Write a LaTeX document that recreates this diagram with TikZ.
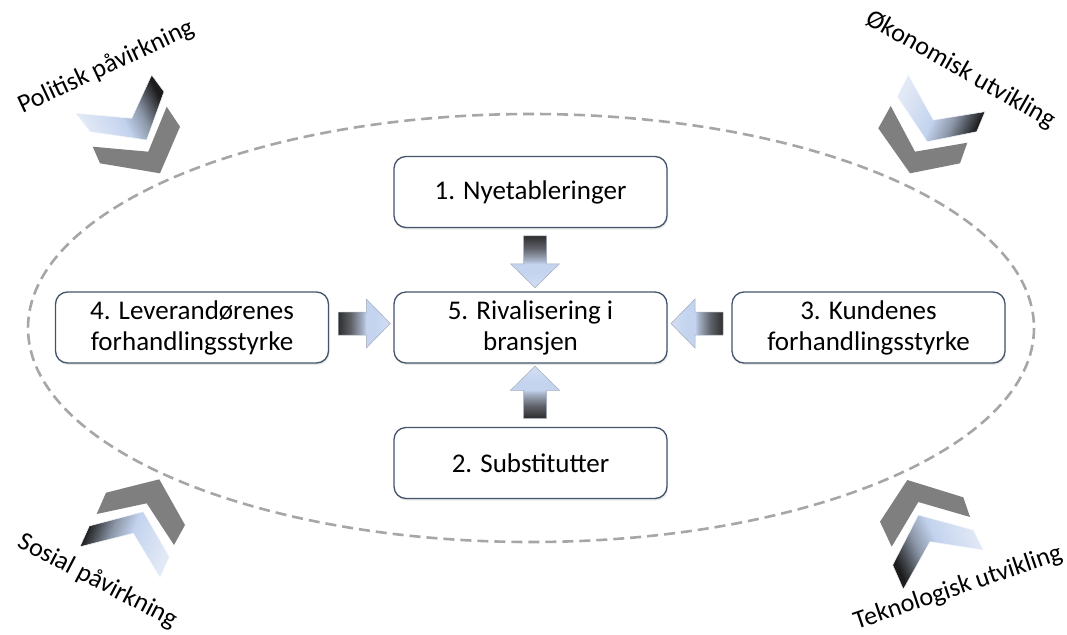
\documentclass[tikz,border=0pt]{standalone}
\usepackage{fontspec}
\setmainfont{Carlito}
\usetikzlibrary{calc,shadows}

\definecolor{boxline}{HTML}{44546A}
\definecolor{ringgray}{HTML}{A6A6A6}
\definecolor{chevgray}{HTML}{7F7F7F}
\definecolor{chevlight}{HTML}{E2E9F6}
\definecolor{chevblue}{HTML}{C3D3EE}
\definecolor{chevmid}{HTML}{8C97A8}
\definecolor{chevdark}{HTML}{1C1C1C}
\definecolor{arrtip}{HTML}{D2DEF3}
\definecolor{arrhead}{HTML}{C4D4EF}
\definecolor{arrmid}{HTML}{A9B5CA}
\definecolor{arrgray}{HTML}{5E6168}
\definecolor{arrdark}{HTML}{2E2E2E}
\definecolor{arrline}{HTML}{A3ACBA}

% shaft-to-head shading of the block arrows (dark tail on top)
\pgfdeclareverticalshading{arrowshade}{100bp}{%
  color(0bp)=(arrtip); color(25bp)=(arrtip); color(40bp)=(arrhead);
  color(48bp)=(arrhead); color(51bp)=(arrmid); color(63bp)=(arrgray);
  color(75bp)=(arrdark); color(100bp)=(arrdark)}
% shading of the coloured chevrons (dark end on top)
\pgfdeclareverticalshading{chevshade}{100bp}{%
  color(0bp)=(chevlight); color(25bp)=(chevlight); color(48bp)=(chevblue);
  color(60bp)=(chevmid); color(75bp)=(chevdark); color(100bp)=(chevdark)}

\newcommand{\fcfont}{\fontsize{27}{31}\selectfont}
\newcommand{\envfont}{\fontsize{26}{30}\selectfont}

% block arrow centred at #1, pointing in direction #2, shading turned by #3
\newcommand{\forcearrow}[3]{%
  \begin{scope}[shift={#1}, rotate=#2]
    \shade[shading=arrowshade, shading angle=#3, draw=arrline, line width=0.5pt]
      (-26,-11.5) -- (2,-11.5) -- (2,-24.5) -- (26,0) -- (2,24.5)
      -- (2,11.5) -- (-26,11.5) -- cycle;
  \end{scope}}

\begin{document}
\begin{tikzpicture}[x=1pt, y=-1pt,
  forcebox/.style={draw=boxline, line width=1.3pt, rounded corners=12pt,
    fill=white, minimum width=273pt, minimum height=71pt, inner sep=0pt,
    align=center, font=\fcfont,
    drop shadow={shadow xshift=1pt, shadow yshift=-2pt, opacity=0.18}},
  outerlabel/.style={font=\envfont, inner sep=0pt},
  graychev/.style={fill=chevgray},
  colorchev/.style={shading=chevshade, draw=white!80!chevblue, line width=0.5pt}]

\useasboundingbox (0,0) rectangle (1067,634);

% dashed boundary of the industry
\draw[ringgray, line width=2.6pt, dash pattern=on 11pt off 6pt]
  (531,328) ellipse [x radius=503, y radius=214];

% the five forces
\node[forcebox] (n1) at (530.5,192) {1. Nyetableringer};
\node[forcebox] (n5) at (530.5,327.5) {5. Rivalisering i\\bransjen};
\node[forcebox] (n2) at (530.5,463) {2. Substitutter};
\node[forcebox] (n4) at (192,327.5) {4. Leverandørenes\\forhandlingsstyrke};
\node[forcebox] (n3) at (868.5,327.5) {3. Kundenes\\forhandlingsstyrke};

% block arrows towards the rivalry box
\forcearrow{($(n1.south)!0.5!(n5.north)+(4.5,2)$)}{-90}{0}
\forcearrow{($(n2.north)!0.5!(n5.south)+(4.5,-3)$)}{90}{180}
\forcearrow{($(n4.east)!0.5!(n5.west)+(3,-4)$)}{0}{90}
\forcearrow{($(n3.west)!0.5!(n5.east)+(-2.5,-4)$)}{180}{-90}

% top left chevrons
\fill[graychev] (92.7,146.7) -- (148.3,151.7) -- (166.7,106.7) -- (180,126.7)
  -- (160,173.3) -- (100,163.3) -- cycle;
\shade[colorchev, shading angle=-62.5] (76,113.3) -- (131.7,118.3) -- (151.7,75)
  -- (164,91.7) -- (146.7,140) -- (90,131.7) -- cycle;
\node[outerlabel, rotate=25] (lp) at (106,67) {Politisk påvirkning};

% top right chevrons
\fill[graychev] (890.7,106) -- (915,151.7) -- (967.3,142.7) -- (960,163.3)
  -- (910,173.3) -- (878.3,128.3) -- cycle;
\shade[colorchev, shading angle=-114.8] (908.3,75) -- (933.3,120) -- (985,111.7)
  -- (976.7,131.7) -- (927.3,141.7) -- (897.3,96.7) -- cycle;
\node[outerlabel, rotate=-29.6] (lo) at (961,70) {Økonomisk utvikling};

% bottom left chevrons
\fill[graychev] (106,492.7) -- (159.3,479.3) -- (185,525) -- (174,545)
  -- (146.7,503.3) -- (96.7,514) -- cycle;
\shade[colorchev, shading angle=68.8] (89.3,526) -- (143.3,511.7) -- (169.3,556.7)
  -- (160,577.3) -- (133.3,533.3) -- (80,546.7) -- cycle;
\node[outerlabel, rotate=-27.5] (ls) at (98,581) {Sosial påvirkning};

% bottom right chevrons
\fill[graychev] (907.3,480) -- (963.3,497.3) -- (970,517) -- (918.3,502)
  -- (891.7,546.7) -- (880,521.7) -- cycle;
\shade[colorchev, shading angle=114.8] (918.3,515) -- (973.3,530) -- (983.3,550)
  -- (930,541.7) -- (903.3,589.3) -- (892.7,565) -- cycle;
\node[outerlabel, rotate=18.7] (lt) at (958,588) {Teknologisk utvikling};

\end{tikzpicture}
\end{document}
